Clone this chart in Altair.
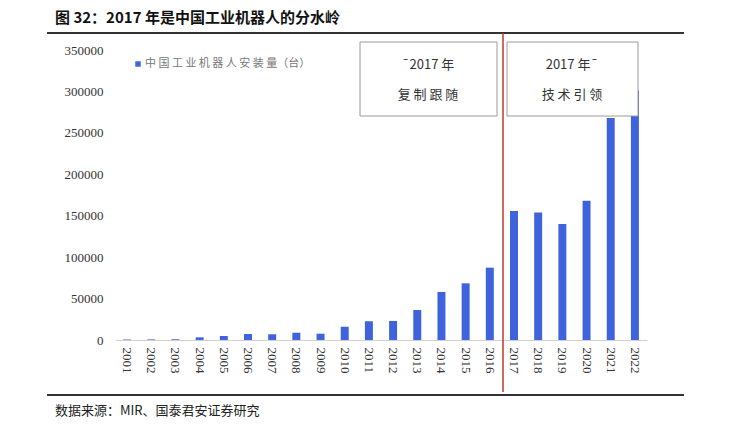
import altair as alt
import pandas as pd

years = [str(y) for y in range(2001, 2023)]
installs = [600, 700, 1000, 3200, 4800, 7200, 6900, 8800, 7600, 16000,
            22500, 23000, 36200, 58000, 68400, 87300,
            155700, 154000, 140000, 168100, 268000, 301000]
y_ticks = [0, 50000, 100000, 150000, 200000, 250000, 300000, 350000]

title_text = "图 32：2017 年是中国工业机器人的分水岭"
legend_text = "中 国 工 业 机 器 人 安 装 量（台）"
source_text = "数据来源：MIR、国泰君安证券研究"
box_left = ["¯2017 年", "复 制 跟 随"]
box_right = ["2017 年¯", "技 术 引 领"]
split_year = "2017"

W, H = 532, 290
df = pd.DataFrame({"year": years, "value": installs})

xs = alt.X("year:N", sort=years, title=None,
           scale=alt.Scale(paddingInner=0.67, paddingOuter=0.335),
           axis=alt.Axis(labelAngle=90, labelFont="Liberation Serif", labelFontSize=13,
                         labelColor="#333", ticks=False, domainColor="#d0d0d0",
                         labelPadding=7))
ys = alt.Y("value:Q", title=None,
           scale=alt.Scale(domain=[0, 350000], nice=False),
           axis=alt.Axis(values=y_ticks, format="d", grid=False, domain=False, ticks=False,
                         labelFont="Liberation Serif", labelFontSize=13, labelColor="#333",
                         labelPadding=12))

bars = alt.Chart(df).mark_bar(color="#3F63DD").encode(x=xs, y=ys)

split = alt.Chart(pd.DataFrame({"year": [split_year]})).mark_rule(
    color="#C0392B", strokeWidth=1.5, xOffset=-7
).encode(x=alt.X("year:N", sort=years, bandPosition=0), y=alt.value(-17), y2=alt.value(H + 52))

line_top = alt.Chart(pd.DataFrame({"a": [0]})).mark_rule(color="#333", strokeWidth=2).encode(
    x=alt.value(-68), x2=alt.value(569), y=alt.value(-17))
line_bot = alt.Chart(pd.DataFrame({"a": [0]})).mark_rule(color="#333", strokeWidth=2).encode(
    x=alt.value(-68), x2=alt.value(569), y=alt.value(H + 55))

title = alt.Chart(pd.DataFrame({"t": [title_text]})).mark_text(
    align="left", baseline="middle", fontSize=15, fontWeight="bold",
    font="Noto Sans CJK SC", color="#111"
).encode(x=alt.value(-60), y=alt.value(-32), text="t:N")

source = alt.Chart(pd.DataFrame({"t": [source_text]})).mark_text(
    align="left", baseline="middle", fontSize=13, font="Noto Sans CJK SC", color="#222"
).encode(x=alt.value(-60), y=alt.value(H + 71), text="t:N")

leg_sq = alt.Chart(pd.DataFrame({"a": [0]})).mark_square(size=30, color="#3F63DD", opacity=1).encode(
    x=alt.value(23), y=alt.value(14))
leg_tx = alt.Chart(pd.DataFrame({"t": [legend_text]})).mark_text(
    align="left", baseline="middle", fontSize=11, font="Noto Sans CJK SC", color="#777"
).encode(x=alt.value(30), y=alt.value(14), text="t:N")

box_l = alt.Chart(pd.DataFrame({"a": [0]})).mark_rect(fill="white", stroke="#9a9a9a", strokeWidth=1).encode(
    x=alt.value(245), x2=alt.value(382), y=alt.value(-8), y2=alt.value(66))
box_r = alt.Chart(pd.DataFrame({"a": [0]})).mark_rect(fill="white", stroke="#9a9a9a", strokeWidth=1).encode(
    x=alt.value(392), x2=alt.value(523), y=alt.value(-8), y2=alt.value(66))

def box_text(lines, cx):
    d = pd.DataFrame({"t": lines, "yy": [15, 45]})
    return alt.Chart(d).mark_text(
        align="center", baseline="middle", fontSize=13, font="Noto Sans CJK SC", color="#333"
    ).encode(x=alt.value(cx), y=alt.Y("yy:Q", scale=None), text="t:N")

chart = alt.layer(
    line_top, line_bot, bars, box_l, box_r,
    box_text(box_left, 313), box_text(box_right, 457),
    split, leg_sq, leg_tx, title, source
).properties(
    width=W, height=H,
    autosize=alt.AutoSizeParams(type="none"),
    padding={"left": 107, "top": 42, "right": 82, "bottom": 83},
).configure_view(stroke=None)

chart.save("out.html", embed_options={"renderer": "svg", "actions": False})
